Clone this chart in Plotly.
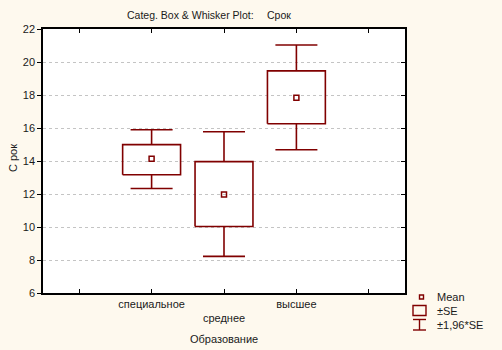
import plotly.graph_objects as go

# ---- data ----
categories = ["специальное", "среднее", "высшее"]
means = [14.14, 11.97, 17.83]
se_low = [13.17, 10.03, 16.26]
se_high = [14.99, 13.96, 19.46]
ci_low = [12.33, 8.22, 14.68]
ci_high = [15.89, 15.77, 21.03]
y_ticks = [6, 8, 10, 12, 14, 16, 18, 20, 22]

RED = "#800000"
BG = "#FEF9EE"
FONT = "Liberation Sans, Arial, sans-serif"

W, H = 502, 350
L, R, T, B = 43, 405, 29, 293

box_half = 0.4
cap_half = 0.29

xpos = [i + 1 for i in range(len(categories))]

fig = go.Figure()

for i, x in enumerate(xpos):
    # SE box
    fig.add_trace(go.Scatter(
        x=[x - box_half, x + box_half, x + box_half, x - box_half, x - box_half],
        y=[se_low[i], se_low[i], se_high[i], se_high[i], se_low[i]],
        mode="lines", line=dict(color=RED, width=1.6), showlegend=False, hoverinfo="skip"))
    # whiskers
    fig.add_trace(go.Scatter(
        x=[x, x, None, x, x, None, x - cap_half, x + cap_half, None, x - cap_half, x + cap_half],
        y=[se_high[i], ci_high[i], None, se_low[i], ci_low[i], None,
           ci_high[i], ci_high[i], None, ci_low[i], ci_low[i]],
        mode="lines", line=dict(color=RED, width=1.6), showlegend=False, hoverinfo="skip"))

fig.add_trace(go.Scatter(
    x=xpos, y=means, mode="markers",
    marker=dict(symbol="square-open", size=5, color=RED, line=dict(width=1.5, color=RED)),
    showlegend=False, hoverinfo="skip"))

# dummy trace for right axis with inward ticks
fig.add_trace(go.Scatter(x=[None], y=[None], yaxis="y2", showlegend=False))

pw, ph = R - L, B - T


def px(xp):
    return (xp - L) / pw


def py(yp):
    return (B - yp) / ph


shapes = []
# legend glyphs
shapes.append(dict(type="rect", xref="paper", yref="paper",
                   x0=px(419.5), x1=px(423.5), y0=py(299), y1=py(295),
                   line=dict(color=RED, width=1.4)))
shapes.append(dict(type="rect", xref="paper", yref="paper",
                   x0=px(413), x1=px(426), y0=py(315.5), y1=py(305.5),
                   line=dict(color=RED, width=1.4)))
for (x0, y0, x1, y1) in [(413, 319.5, 426, 319.5), (419.5, 319.5, 419.5, 330),
                         (413, 330, 426, 330)]:
    shapes.append(dict(type="line", xref="paper", yref="paper",
                       x0=px(x0), x1=px(x1), y0=py(y0), y1=py(y1),
                       line=dict(color=RED, width=1.4)))

ann = []
tf = dict(family=FONT, size=11, color="#1a1a1a")
ttf = dict(family=FONT, size=10.5, color="#1a1a1a")
ann.append(dict(text="Categ. Box &amp; Whisker Plot:", xref="paper", yref="paper",
                x=px(125), y=py(15), xanchor="left", yanchor="middle",
                showarrow=False, font=ttf))
ann.append(dict(text="Срок", xref="paper", yref="paper",
                x=px(265), y=py(15), xanchor="left", yanchor="middle",
                showarrow=False, font=ttf))
ann.append(dict(text="С рок", xref="paper", yref="paper",
                x=px(13), y=py(158), xanchor="center", yanchor="middle",
                textangle=-90, showarrow=False, font=tf))
ann.append(dict(text="Образование", xref="paper", yref="paper",
                x=px(224), y=py(339), xanchor="center", yanchor="middle",
                showarrow=False, font=tf))
ann.append(dict(text="Mean", xref="paper", yref="paper", x=px(435), y=py(297),
                xanchor="left", yanchor="middle", showarrow=False, font=tf))
ann.append(dict(text="±SE", xref="paper", yref="paper", x=px(435), y=py(311),
                xanchor="left", yanchor="middle", showarrow=False, font=tf))
ann.append(dict(text="±1,96*SE", xref="paper", yref="paper", x=px(435), y=py(325),
                xanchor="left", yanchor="middle", showarrow=False, font=tf))

ticktext = [""] + [("<br>" + c) if i == 1 else c for i, c in enumerate(categories)] + [""]

fig.update_layout(
    width=W, height=H,
    margin=dict(l=L, r=W - R, t=T, b=H - B, pad=0),
    paper_bgcolor=BG, plot_bgcolor="white",
    font=tf,
    shapes=shapes, annotations=ann,
    xaxis=dict(range=[-0.5, 4.5], tickvals=[0] + xpos + [4], ticktext=ticktext,
               ticks="inside", ticklen=4, tickcolor="black", showgrid=False,
               showline=True, linecolor="black", linewidth=1.5, mirror="ticks",
               zeroline=False, fixedrange=True, tickfont=tf),
    yaxis=dict(range=[6, 22], tickvals=y_ticks, ticks="outside", ticklen=4,
               tickcolor="black", showline=True, linecolor="black", linewidth=1.5,
               mirror=True, showgrid=True, gridcolor="#c4c4c4", griddash="dot",
               gridwidth=1, zeroline=False, tickfont=tf),
    yaxis2=dict(range=[6, 22], tickvals=y_ticks[1:-1], overlaying="y", side="right",
                ticks="inside", ticklen=4, tickcolor="black", showticklabels=False,
                showgrid=False, zeroline=False, showline=False),
)

fig.write_html("out.html")
